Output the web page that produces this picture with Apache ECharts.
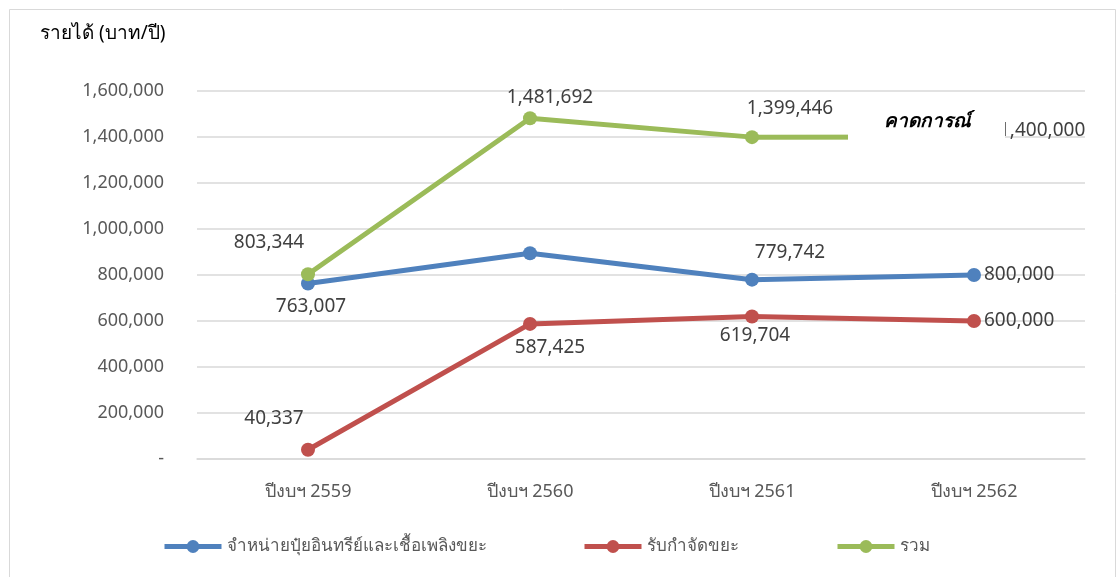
<!DOCTYPE html>
<html><head><meta charset="utf-8">
<script src="https://cdn.jsdelivr.net/npm/echarts@6/dist/echarts.min.js"></script>
<style>html,body{margin:0;padding:0;background:#fff}#c{width:1120px;height:577px}</style>
</head><body><div id="c"></div>
<script>
const categories = ['ปีงบฯ 2559','ปีงบฯ 2560','ปีงบฯ 2561','ปีงบฯ 2562'];
const seriesNames = ['จำหน่ายปุ๋ยอินทรีย์และเชื้อเพลิงขยะ','รับกำจัดขยะ','รวม'];
const fertilizer = [763007, 894267, 779742, 800000];
const disposal = [40337, 587425, 619704, 600000];
const total = [803344, 1481692, 1399446, 1400000];
const yTicks = [0, 200000, 400000, 600000, 800000, 1000000, 1200000, 1400000, 1600000];
const yTitle = 'รายได้ (บาท/ปี)';
const forecastText = 'คาดการณ์';

const FONT = '"Noto Sans", "Open Sans", sans-serif';
const fmt = v => v.toLocaleString('en-US');
const lblBase = {show:true, fontSize:19, color:'#404040', fontFamily:FONT, formatter: p => fmt(p.value)};

const blueLbl = [
  {position:'bottom', offset:[3,2]},
  {show:false},
  {position:'top', offset:[38,-6]},
  {position:'right', offset:[-2,0]}
];
const redLbl = [
  {position:'top', offset:[-34,-10]},
  {position:'bottom', offset:[20,2]},
  {position:'bottom', offset:[3,-2]},
  {position:'right', offset:[-2,0]}
];
const greenLbl = [
  {position:'top', offset:[-39,-10]},
  {position:'top', offset:[20,1]},
  {position:'top', offset:[38,-7]},
  {position:'right', offset:[13,-6]}
];
function mk(vals, lbls){ return vals.map((v,i)=>({value:v, label:lbls[i]})); }

const legendLefts = [157, 577, 830];
const legends = seriesNames.map((n,i)=>({left:legendLefts[i], bottom:17, itemWidth:57, itemHeight:16,
    lineStyle:{width:5}, textStyle:{color:'#595959', fontSize:17, fontFamily:FONT}, data:[n]}));

const chart = echarts.init(document.getElementById('c'));
chart.setOption({
  backgroundColor:'#fff',
  animation:false,
  textStyle:{fontFamily:FONT},
  grid:{left:197, right:35, top:91, bottom:118},
  xAxis:{type:'category', data:categories, boundaryGap:true,
    axisLine:{lineStyle:{color:'#d9d9d9', width:1.5}}, axisTick:{show:false},
    axisLabel:{color:'#595959', fontSize:18, margin:24, fontFamily:FONT}},
  yAxis:{type:'value', min:yTicks[0], max:yTicks[yTicks.length-1], interval:200000,
    axisLine:{show:false}, axisTick:{show:false},
    splitLine:{lineStyle:{color:'#d9d9d9', width:1.5}},
    axisLabel:{color:'#595959', fontSize:18, margin:33, fontFamily:FONT, formatter: v => v===0 ? '-' : fmt(v)}},
  legend:legends,
  series:[
    {name:seriesNames[0], type:'line', data:mk(fertilizer, blueLbl), color:'#4F81BD',
      lineStyle:{width:5}, symbol:'circle', symbolSize:14, label:lblBase, z:3},
    {name:seriesNames[1], type:'line', data:mk(disposal, redLbl), color:'#C0504D',
      lineStyle:{width:5}, symbol:'circle', symbolSize:14, label:lblBase, z:3},
    {name:seriesNames[2], type:'line', data:mk(total, greenLbl), color:'#9BBB59',
      lineStyle:{width:5}, symbol:'circle', symbolSize:14, label:lblBase, z:4}
  ],
  graphic:[
    {type:'rect', left:7, top:7, shape:{width:1106, height:580}, style:{fill:null, stroke:'#d9d9d9', lineWidth:1}, z:0, silent:true},
    {type:'text', left:40, top:24, style:{text:yTitle, fontSize:19, fill:'#000', fontFamily:FONT}, z:100},
    {type:'rect', left:848, top:104, shape:{width:157, height:48}, style:{fill:'#fff'}, z:100},
    {type:'text', left:884, top:112, style:{text:forecastText, fontSize:19, fontWeight:'bold', fontStyle:'italic', fill:'#000', fontFamily:FONT}, z:101}
  ]
});
</script></body></html>
